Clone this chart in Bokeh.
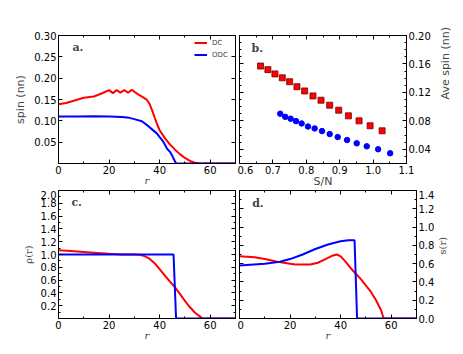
import math
from bokeh.plotting import figure
from bokeh.models import Range1d, FixedTicker, LinearAxis, Label, PrintfTickFormatter
from bokeh.layouts import column, row
from bokeh.embed import file_html
from bokeh.resources import INLINE

# ---- data ----
# panel a: spin (nn) vs r
a_r_dc = [0, 3, 6, 10, 14, 17, 20, 21.5, 23, 24.5, 26, 27.5, 29, 30.5, 32, 33.5, 35, 36, 37, 38, 39, 40, 42, 44, 46, 48, 50, 52, 54, 56, 70]
a_dc = [0.139, 0.142, 0.147, 0.154, 0.157, 0.164, 0.172, 0.165, 0.172, 0.166, 0.172, 0.166, 0.173, 0.166, 0.160, 0.155, 0.149, 0.140, 0.125, 0.108, 0.092, 0.078, 0.060, 0.045, 0.033, 0.022, 0.013, 0.006, 0.002, 0.0, 0.0]
a_r_odc = [0, 7, 14, 20, 25, 28, 30, 33, 35, 37, 39, 40, 41, 42, 43, 44, 45, 46, 46.5, 70]
a_odc = [0.110, 0.110, 0.111, 0.110, 0.109, 0.107, 0.104, 0.099, 0.090, 0.080, 0.070, 0.062, 0.055, 0.045, 0.034, 0.028, 0.018, 0.006, 0.0, 0.0]

# panel b: Ave spin (nn) vs S/N
b_sn_dc = [0.663, 0.685, 0.706, 0.728, 0.750, 0.772, 0.795, 0.820, 0.844, 0.870, 0.897, 0.926, 0.958, 0.991, 1.027]
b_dc = [0.157, 0.152, 0.146, 0.1405, 0.135, 0.128, 0.122, 0.115, 0.109, 0.102, 0.095, 0.087, 0.080, 0.073, 0.066]
b_sn_odc = [0.722, 0.737, 0.753, 0.769, 0.786, 0.805, 0.825, 0.847, 0.870, 0.894, 0.922, 0.951, 0.981, 1.015, 1.051]
b_odc = [0.090, 0.0856, 0.083, 0.0796, 0.0763, 0.072, 0.0693, 0.0656, 0.0614, 0.0572, 0.053, 0.0484, 0.0442, 0.040, 0.0344]

# panel c: rho(r) vs r
c_r_dc = [0, 5, 10, 15, 20, 25, 30, 32, 34, 36, 38, 40, 42, 44, 46, 48, 50, 52, 54, 56, 57, 70]
c_dc = [1.065, 1.055, 1.04, 1.025, 1.01, 1.0, 1.0, 0.995, 0.975, 0.935, 0.865, 0.77, 0.675, 0.58, 0.49, 0.385, 0.275, 0.175, 0.09, 0.03, 0.0, 0.0]
c_r_odc = [0, 45.5, 46.5, 70]
c_odc = [1.0, 1.0, 0.0, 0.0]

# panel d: s(r) vs r
d_r_dc = [0, 6, 10, 15, 20, 22, 28, 31, 34, 37, 38.5, 40, 42, 44, 46, 48, 50, 52, 54, 56, 57, 70]
d_dc = [0.68, 0.67, 0.65, 0.62, 0.60, 0.59, 0.59, 0.61, 0.65, 0.69, 0.70, 0.68, 0.62, 0.55, 0.49, 0.43, 0.36, 0.29, 0.20, 0.09, 0.0, 0.0]
d_r_odc = [0, 10, 16, 20, 25, 30, 35, 40, 43, 45.5, 46.5, 70]
d_odc = [0.58, 0.60, 0.62, 0.65, 0.70, 0.76, 0.81, 0.845, 0.855, 0.855, 0.0, 0.0]

RED = "#ff0000"
BLUE = "#0000ff"
FONT = "DejaVu Sans"
SERIF = "DejaVu Serif"


def style_axis(ax, ticks, minor, fmt, show=True):
    ax.ticker = FixedTicker(ticks=ticks, minor_ticks=minor)
    ax.major_tick_in = 4
    ax.major_tick_out = 0
    ax.minor_tick_in = 2
    ax.minor_tick_out = 0
    ax.axis_line_color = "black"
    ax.major_tick_line_color = "black"
    ax.minor_tick_line_color = "black"
    if fmt is not None:
        ax.formatter = PrintfTickFormatter(format=fmt)
    ax.major_label_text_font = FONT
    if show:
        ax.major_label_text_color = "black"
        ax.major_label_text_font_size = "10px"
        ax.major_label_standoff = 2
    else:
        ax.major_label_text_color = None
        ax.major_label_text_font_size = "0px"
        ax.major_label_standoff = 0
        ax.axis_label_standoff = 0


def make_fig(w, h, xr, yr, bl, br, bt, bb, yloc="left"):
    p = figure(width=w, height=h, x_range=Range1d(*xr), y_range=Range1d(*yr),
               output_backend="svg", toolbar_location=None, y_axis_location=yloc,
               min_border_left=bl, min_border_right=br, min_border_top=bt, min_border_bottom=bb)
    p.grid.visible = False
    p.outline_line_color = "black"
    p.outline_line_width = 1
    p.background_fill_color = "white"
    p.border_fill_color = "white"
    return p


def add_opposite(p, xt, xm, yt, ym, yside):
    top = LinearAxis()
    style_axis(top, xt, xm, None, show=False)
    p.add_layout(top, "above")
    other = LinearAxis()
    style_axis(other, yt, ym, None, show=False)
    p.add_layout(other, yside)


def panel_label(p, x, y, t):
    p.add_layout(Label(x=x, y=y, text=t, text_font=SERIF, text_font_style="bold",
                       text_font_size="11px", text_baseline="middle", text_align="left"))


def r_label(ax):
    ax.axis_label = "r"
    ax.axis_label_text_font = SERIF
    ax.axis_label_text_font_style = "italic"
    ax.axis_label_text_font_size = "10px"
    ax.axis_label_standoff = -2


def y_label(ax, t, font, size, standoff=4, flip=False, baseline=None):
    ax.axis_label = t
    ax.axis_label_text_font = font
    ax.axis_label_text_font_style = "normal"
    ax.axis_label_text_font_size = size
    ax.axis_label_standoff = standoff
    if flip:
        try:
            ax.axis_label_orientation = math.pi / 2
        except Exception:
            pass
    if baseline is not None:
        ax.axis_label_text_baseline = baseline


r_ticks = [0, 20, 40, 60]
r_minor = [10, 30, 50, 70]

# ---- panel a ----
a_yt = [0.05, 0.10, 0.15, 0.20, 0.25, 0.30]
pa = make_fig(237, 190, (0, 70), (0, 0.30), 58, 2, 35, 27)
pa.line(a_r_dc, a_dc, color=RED, line_width=2, legend_label="DC")
pa.line(a_r_odc, a_odc, color=BLUE, line_width=2, legend_label="ODC")
style_axis(pa.xaxis[0], r_ticks, r_minor, "%d")
style_axis(pa.yaxis[0], a_yt, [], "%.2f")
r_label(pa.xaxis[0])
y_label(pa.yaxis[0], "spin (nn)", FONT, "11px")
add_opposite(pa, r_ticks, r_minor, a_yt, [], "right")
pa.legend.location = "top_right"
pa.legend.border_line_color = None
pa.legend.background_fill_alpha = 0
pa.legend.label_text_font = FONT
pa.legend.label_text_font_size = "7px"
pa.legend.glyph_width = 13
pa.legend.glyph_height = 9
pa.legend.label_height = 9
pa.legend.label_standoff = 5
pa.legend.spacing = 3
pa.legend.padding = 2
pa.legend.margin = 3
panel_label(pa, 5.5, 0.272, "a.")

# ---- panel b ----
b_yt = [0.04, 0.08, 0.12, 0.16, 0.20]
b_ym = [0.02, 0.03, 0.05, 0.06, 0.07, 0.09, 0.10, 0.11, 0.13, 0.14, 0.15, 0.17, 0.18, 0.19]
b_xt = [0.6, 0.7, 0.8, 0.9, 1.0, 1.1]
b_xm = [0.65, 0.75, 0.85, 0.95, 1.05]
pb = make_fig(224, 190, (0.6, 1.1), (0.02, 0.20), 2, 45, 35, 27, yloc="right")
pb.scatter(b_sn_dc, b_dc, marker="square", size=6, fill_color=RED, line_color="#700000", line_width=0.8)
pb.scatter(b_sn_odc, b_odc, marker="circle", size=5.5, fill_color=BLUE, line_color=BLUE)
style_axis(pb.xaxis[0], b_xt, b_xm, "%.1f")
style_axis(pb.yaxis[0], b_yt, b_ym, "%.2f")
pb.xaxis[0].axis_label = "S/N"
pb.xaxis[0].axis_label_text_font = FONT
pb.xaxis[0].axis_label_text_font_style = "normal"
pb.xaxis[0].axis_label_text_font_size = "11px"
pb.xaxis[0].axis_label_standoff = -2
y_label(pb.yaxis[0], "Ave spin (nn)", FONT, "11px", standoff=12, flip=True, baseline="bottom")
add_opposite(pb, b_xt, b_xm, b_yt, b_ym, "left")
panel_label(pb, 0.636, 0.182, "b.")

# ---- panel c ----
c_yt = [0.2, 0.4, 0.6, 0.8, 1.0, 1.2, 1.4, 1.6, 1.8, 2.0]
c_ym = [0.1, 0.3, 0.5, 0.7, 0.9, 1.1, 1.3, 1.5, 1.7, 1.9]
pc = make_fig(237, 158, (0, 70), (0, 2.0), 58, 2, 0, 30)
pc.line(c_r_dc, c_dc, color=RED, line_width=2)
pc.line(c_r_odc, c_odc, color=BLUE, line_width=2)
style_axis(pc.xaxis[0], r_ticks, r_minor, "%d")
style_axis(pc.yaxis[0], c_yt, c_ym, "%.1f")
r_label(pc.xaxis[0])
y_label(pc.yaxis[0], "ρ(r)", SERIF, "10px")
add_opposite(pc, r_ticks, r_minor, c_yt, c_ym, "right")
panel_label(pc, 5.1, 1.81, "c.")

# ---- panel d ----
d_yt = [0.0, 0.2, 0.4, 0.6, 0.8, 1.0, 1.2, 1.4]
d_ym = [0.1, 0.3, 0.5, 0.7, 0.9, 1.1, 1.3]
pd_ = make_fig(224, 158, (0, 70), (0, 1.4), 2, 45, 0, 30, yloc="right")
pd_.line(d_r_dc, d_dc, color=RED, line_width=2)
pd_.line(d_r_odc, d_odc, color=BLUE, line_width=2)
style_axis(pd_.xaxis[0], r_ticks, r_minor, "%d")
style_axis(pd_.yaxis[0], d_yt, d_ym, "%.1f")
r_label(pd_.xaxis[0])
y_label(pd_.yaxis[0], "s(r)", SERIF, "10px", standoff=5, flip=True, baseline="bottom")
add_opposite(pd_, r_ticks, r_minor, d_yt, d_ym, "left")
panel_label(pd_, 5.0, 1.255, "d.")

layout = column(row(pa, pb, spacing=0), row(pc, pd_, spacing=0), spacing=0)
open("out.html", "w").write(file_html(layout, INLINE))
